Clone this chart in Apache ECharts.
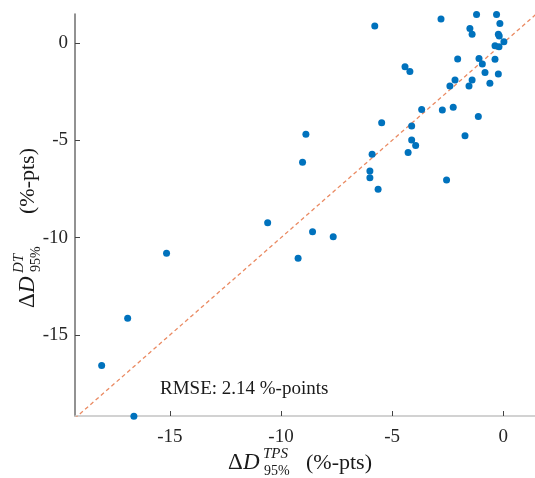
<!DOCTYPE html>
<html>
<head>
<meta charset="utf-8">
<script src="https://cdn.jsdelivr.net/npm/echarts@6/dist/echarts.min.js"></script>
<style>
  html, body { margin: 0; padding: 0; background: #fff; }
  #main { width: 535px; height: 478px; }
</style>
</head>
<body>
<div id="main"></div>
<script>
// dose differences, TPS vs DT (%-pts)
var tpsValues = [-1.2, -0.3, -2.8, -5.78, -0.15, -1.5, -1.4, -0.22, -0.18, 0.03,
  -0.37, -0.19, -2.05, -1.09, -0.94, -0.37, -0.82, -0.22, -2.17, -1.4,
  -2.4, -1.54, -0.6, -4.42, -4.2, -3.67, -2.74, -2.25, -1.12, -5.47,
  -4.12, -1.72, -4.12, -3.94, -4.28, -5.9, -6.0, -6.0, -2.55, -5.63,
  -8.88, -9.03, -10.6, -8.58, -7.65, -9.23, -15.15, -16.9, -18.07, -16.62];
var dtValues = [1.47, 1.47, 1.23, 0.87, 1.0, 0.75, 0.45, 0.45, 0.36, 0.07,
  -0.14, -0.19, -0.82, -0.79, -1.08, -0.84, -1.51, -1.59, -1.9, -1.9,
  -2.21, -2.21, -2.07, -1.22, -1.47, -3.41, -3.44, -3.3, -3.78, -4.09,
  -4.26, -4.76, -4.98, -5.27, -5.62, -5.72, -6.57, -6.92, -7.04, -7.51,
  -4.69, -6.13, -9.23, -9.69, -9.95, -11.06, -10.8, -14.14, -16.57, -19.17];
var identityLine = [-20, 2];        // y = x reference
var tickValues = [-15, -10, -5, 0];
var rmseText = 'RMSE: 2.14 %-points';

var points = [];
for (var i = 0; i < tpsValues.length; i++) {
    points.push([tpsValues[i], dtValues[i]]);
}

var serif = '"Liberation Serif", "DejaVu Serif", serif';
var ink = '#1a1a1a';

// axis title with stacked super/subscript, laid out by hand
function mathLabel(sup, x, y, rot, tailX) {
    return {
        type: 'group',
        x: x,
        y: y,
        rotation: rot,
        children: [
            { type: 'text', x: 0, y: 0, style: { text: 'Δ', font: '23px ' + serif, fill: ink, verticalAlign: 'middle' } },
            { type: 'text', x: 15, y: 0, style: { text: 'D', font: 'italic 23px ' + serif, fill: ink, verticalAlign: 'middle' } },
            { type: 'text', x: 35, y: -9, style: { text: sup, font: 'italic 15px ' + serif, fill: ink, verticalAlign: 'middle' } },
            { type: 'text', x: 36, y: 8, style: { text: '95%', font: '14px ' + serif, fill: ink, verticalAlign: 'middle' } },
            { type: 'text', x: tailX, y: 0, style: { text: '(%-pts)', font: '22px ' + serif, fill: ink, verticalAlign: 'middle' } }
        ]
    };
}

var myChart = echarts.init(document.getElementById('main'));

var option = {
    backgroundColor: '#fff',
    animation: false,
    grid: { left: 75, right: 0, top: 14, bottom: 62 },
    xAxis: {
        type: 'value',
        min: -19.27,
        max: 1.43,
        axisLine: { show: true, onZero: false, lineStyle: { color: '#c4c4c4', width: 1.5 } },
        axisTick: { show: true, inside: true, length: 5, customValues: tickValues,
            lineStyle: { color: '#444' } },
        axisLabel: { customValues: tickValues, color: '#262626', fontFamily: serif,
            fontSize: 19, margin: 12 },
        splitLine: { show: false }
    },
    yAxis: {
        type: 'value',
        min: -19.16,
        max: 1.49,
        axisLine: { show: true, onZero: false, lineStyle: { color: '#6e6e6e', width: 1.5 } },
        axisTick: { show: true, inside: true, length: 5, customValues: tickValues,
            lineStyle: { color: '#444' } },
        axisLabel: { customValues: tickValues, color: '#262626', fontFamily: serif,
            fontSize: 19, margin: 7 },
        splitLine: { show: false }
    },
    series: [
        {
            // y = x
            type: 'line',
            data: [[identityLine[0], identityLine[0]], [identityLine[1], identityLine[1]]],
            symbol: 'none',
            clip: true,
            lineStyle: { color: '#ea8a62', width: 1.3, type: [4, 3] },
            z: 1
        },
        {
            type: 'scatter',
            data: points,
            symbolSize: 7,
            clip: false,
            itemStyle: { color: '#0072BD', opacity: 1 },
            z: 3
        }
    ],
    graphic: [
        {
            type: 'text',
            left: 160,
            top: 380,
            style: { text: rmseText, font: '19px ' + serif, fill: ink }
        },
        mathLabel('TPS', 228, 463, 0, 78),
        mathLabel('DT', 28, 308, Math.PI / 2, 94)
    ]
};

myChart.setOption(option);
</script>
</body>
</html>
